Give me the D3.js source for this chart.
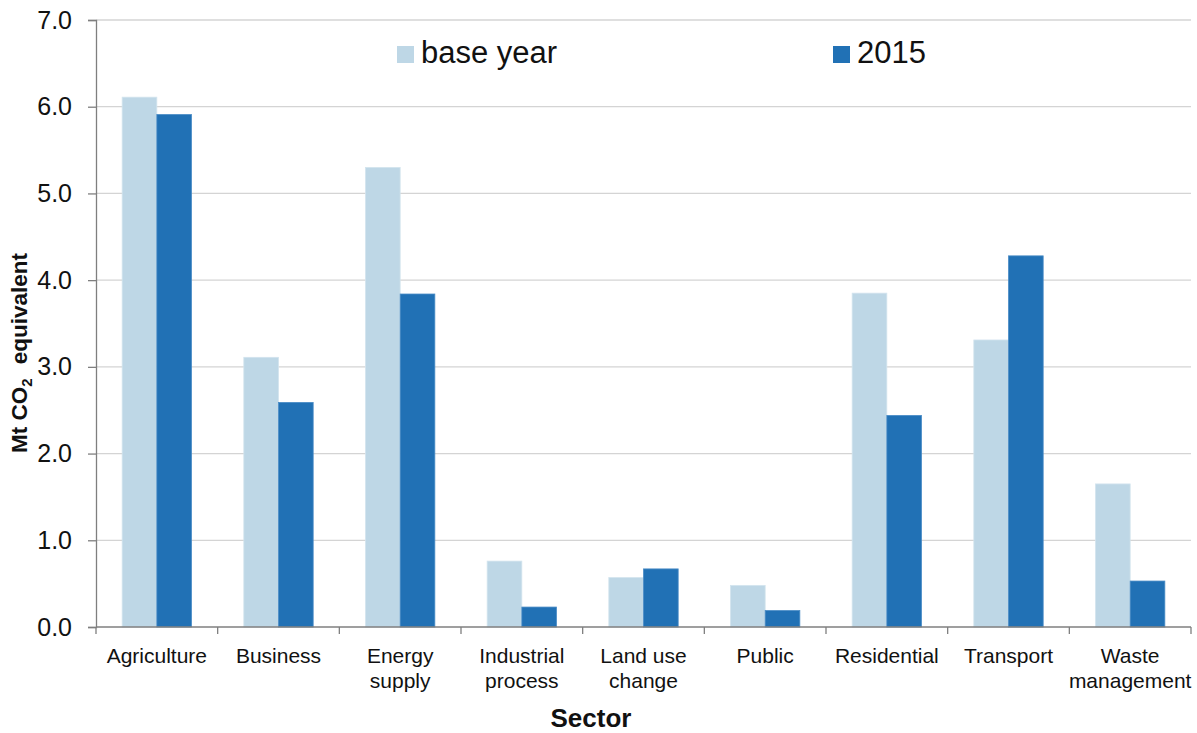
<!DOCTYPE html>
<html>
<head>
<meta charset="utf-8">
<script src="https://cdn.jsdelivr.net/npm/d3@7"></script>
<style>
  html, body { margin: 0; padding: 0; background: #ffffff; }
  svg { display: block; font-family: "Liberation Sans", Arial, sans-serif; }
</style>
</head>
<body>
<svg id="chart" width="1197" height="733"></svg>
<script>
const categories = ["Agriculture", "Business", "Energy supply", "Industrial process", "Land use change", "Public", "Residential", "Transport", "Waste management"];
const categoryLines = [["Agriculture"], ["Business"], ["Energy", "supply"], ["Industrial", "process"], ["Land use", "change"], ["Public"], ["Residential"], ["Transport"], ["Waste", "management"]];
const seriesNames = ["base year", "2015"];
const baseYear = [6.11, 3.11, 5.30, 0.76, 0.57, 0.48, 3.85, 3.31, 1.65];
const year2015 = [5.91, 2.59, 3.84, 0.23, 0.67, 0.19, 2.44, 4.28, 0.53];
const yTicks = [0, 1, 2, 3, 4, 5, 6, 7];
const colors = ["#bed7e6", "#2171b5"];

const svg = d3.select("#chart");
const mLeft = 96, mRight = 1191, mTop = 20, mBottom = 627;

const x = d3.scaleBand().domain(categories).range([mLeft, mRight]).paddingInner(0.43).paddingOuter(0.215);
const xs = d3.scaleBand().domain(seriesNames).range([0, x.bandwidth()]);
const y = d3.scaleLinear().domain([0, 7]).range([mBottom, mTop]);

// gridlines
svg.append("g").selectAll("line").data(yTicks.filter(d => d > 0)).join("line")
  .attr("x1", mLeft).attr("x2", mRight)
  .attr("y1", d => y(d)).attr("y2", d => y(d))
  .attr("stroke", "#d4d4d4").attr("stroke-width", 1.3);

// bars
const rows = categories.map((c, i) => ({ c, vals: [baseYear[i], year2015[i]] }));
const groups = svg.append("g").selectAll("g").data(rows).join("g")
  .attr("transform", d => `translate(${x(d.c)},0)`);
groups.selectAll("rect").data(d => d.vals.map((v, j) => ({ v, s: seriesNames[j], j }))).join("rect")
  .attr("x", d => xs(d.s))
  .attr("width", xs.bandwidth())
  .attr("y", d => y(d.v))
  .attr("height", d => y(0) - y(d.v))
  .attr("fill", d => colors[d.j])
  .attr("stroke", d => d.j === 0 ? "#d3e4ee" : "#4a8cc6")
  .attr("stroke-width", 0.8);

// y axis
const yAxis = svg.append("g").attr("transform", `translate(${mLeft},0)`)
  .call(d3.axisLeft(y).tickValues(yTicks).tickFormat(d3.format(".1f")).tickSize(8).tickPadding(16));
yAxis.select(".domain").attr("stroke", "#7f7f7f").attr("stroke-width", 1.3);
yAxis.selectAll(".tick line").attr("stroke", "#7f7f7f").attr("stroke-width", 1.3);
yAxis.selectAll(".tick text").attr("font-size", 25).attr("fill", "#111").attr("font-family", "Liberation Sans, Arial, sans-serif");

// x axis
const bounds = categories.map(c => x(c) - x.step() * x.paddingInner() / 2).concat([mRight]);
svg.append("line").attr("x1", mLeft).attr("x2", mRight).attr("y1", mBottom).attr("y2", mBottom)
  .attr("stroke", "#7f7f7f").attr("stroke-width", 1.3);
svg.append("g").selectAll("line").data(bounds).join("line")
  .attr("x1", d => d).attr("x2", d => d).attr("y1", mBottom).attr("y2", mBottom + 7)
  .attr("stroke", "#7f7f7f").attr("stroke-width", 1.3);

const xl = svg.append("g").selectAll("text").data(categories).join("text")
  .attr("x", d => x(d) + x.bandwidth() / 2)
  .attr("y", 663)
  .attr("text-anchor", "middle")
  .attr("font-size", 21)
  .attr("fill", "#111");
xl.each(function(d, i) {
  const t = d3.select(this);
  categoryLines[i].forEach((ln, k) => {
    t.append("tspan").attr("x", x(d) + x.bandwidth() / 2).attr("dy", k === 0 ? 0 : 25).text(ln);
  });
});

// axis titles
svg.append("text").attr("x", 591).attr("y", 727).attr("text-anchor", "middle")
  .attr("font-size", 26).attr("font-weight", "bold").attr("fill", "#111").text("Sector");

const yt = svg.append("text")
  .attr("transform", "translate(27,353) rotate(-90)")
  .attr("text-anchor", "middle").attr("font-size", 22.5).attr("font-weight", "bold").attr("fill", "#111");
yt.append("tspan").text("Mt CO");
yt.append("tspan").attr("font-size", 15).attr("dy", 5).text("2");
yt.append("tspan").attr("dy", -5).attr("dx", 8).text(" equivalent");

// legend
const legendPos = [397, 833];
const lg = svg.append("g").selectAll("g").data(seriesNames).join("g")
  .attr("transform", (d, i) => `translate(${legendPos[i]},0)`);
lg.append("rect").attr("x", 0).attr("y", 46).attr("width", 17).attr("height", 17)
  .attr("fill", (d, i) => colors[i]);
lg.append("text").attr("x", 24).attr("y", 63).attr("font-size", 31).attr("fill", "#111").text(d => d);
</script>
</body>
</html>
